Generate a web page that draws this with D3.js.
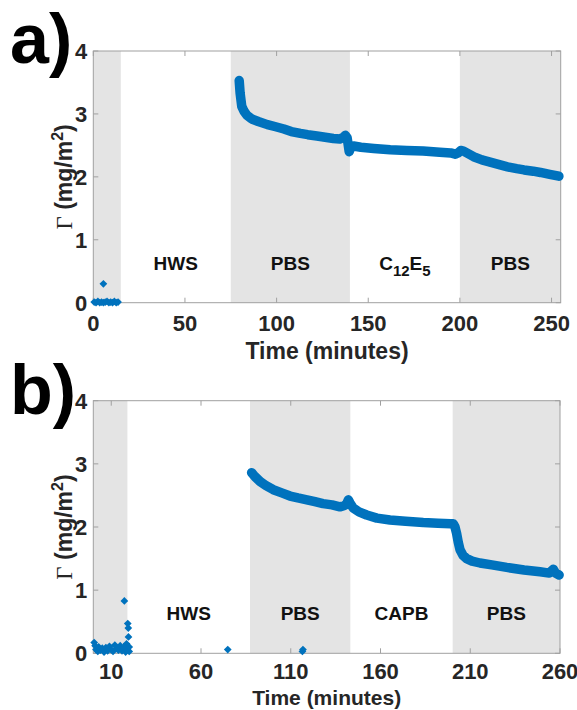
<!DOCTYPE html>
<html>
<head>
<meta charset="utf-8">
<script src="https://cdn.jsdelivr.net/npm/d3@7"></script>
<style>
  body { margin: 0; background: #fff; }
  svg text { font-family: "Liberation Sans", Arial, sans-serif; font-weight: bold; fill: #262626; }
</style>
</head>
<body>
<script>
// ---- panel a) ----
const topTime = [79.6, 80.1, 81, 82.3, 83.8, 86.5, 90, 95, 99, 104, 108, 113, 117, 122, 126.5, 131, 134.5,
  136.5, 137.5, 138.5, 139.6, 140.4, 142, 146, 153, 162, 171, 180, 189, 195, 197.5, 199, 200.5, 202,
  204.5, 207.5, 212, 217, 222, 226, 231, 235, 240, 244, 249, 254];
const topGamma = [3.53, 3.33, 3.12, 3.04, 2.98, 2.92, 2.88, 2.83, 2.80, 2.76, 2.72, 2.69, 2.67, 2.65, 2.63, 2.61, 2.60,
  2.63, 2.66, 2.62, 2.40, 2.47, 2.49, 2.47, 2.45, 2.43, 2.42, 2.41, 2.39, 2.38, 2.36, 2.38, 2.42, 2.41,
  2.37, 2.32, 2.27, 2.23, 2.19, 2.16, 2.13, 2.11, 2.09, 2.07, 2.04, 2.01];
const topStrayTime = [0.5, 1.5, 2.5, 3.5, 4.5, 5.5, 6.5, 7.5, 8.5, 9.5, 10.5, 11.5, 12.5, 13.5, 5.5];
const topStrayGamma = [0.01, 0.0, 0.02, 0.0, 0.01, 0.0, 0.01, 0.02, 0.0, 0.01, 0.0, 0.02, 0.0, 0.01, 0.3];
const topBands = [[0, 15, "", true], [15, 75, "HWS", false], [75, 140, "PBS", true],
  [140, 200, "C12E5", false], [200, 255, "PBS", true]];
const topXTicks = [0, 50, 100, 150, 200, 250];

// ---- panel b) ----
const botTime = [88.2, 90, 92.9, 96, 100.3, 105, 109.6, 114, 119, 123.5, 128, 133, 137.4, 140, 141.2, 142.1,
  143, 144.8, 148, 152.3, 158, 165.3, 174, 183.8, 192, 199, 200.6, 201.5, 202.4, 203.3, 204.3, 206, 208,
  211, 215.4, 222, 230.3, 240, 248.9, 254, 256.3, 257.5, 259.5];
const botGamma = [2.86, 2.80, 2.72, 2.66, 2.59, 2.54, 2.49, 2.46, 2.43, 2.40, 2.37, 2.35, 2.32, 2.34, 2.37, 2.43,
  2.38, 2.30, 2.24, 2.19, 2.14, 2.11, 2.09, 2.07, 2.06, 2.05, 2.05, 2.00, 1.90, 1.76, 1.64, 1.55, 1.50,
  1.46, 1.43, 1.40, 1.36, 1.32, 1.29, 1.27, 1.33, 1.27, 1.24];
const botStrayTime = [0.5, 1, 1.5, 2.5, 3, 4, 5, 6, 7, 8, 9, 10, 11, 12, 13, 14, 15, 16, 17, 17.3, 18, 18.5,
  19, 19.2, 19.5, 19.6, 20, 20, 74.9, 116.5, 116.8];
const botStrayGamma = [0.17, 0.12, 0.06, 0.03, 0.1, 0.05, 0.08, 0.02, 0.09, 0.04, 0.11, 0.06, 0.03, 0.13, 0.08,
  0.05, 0.12, 0.04, 0.1, 0.83, 0.02, 0.15, 0.07, 0.47, 0.4, 0.26, 0.03, 0.1, 0.06, 0.03, 0.06];
const botBands = [[0, 19, "", true], [19, 87.3, "HWS", false], [87.3, 143.2, "PBS", true],
  [143.2, 200.2, "CAPB", false], [200.2, 260, "PBS", true]];
const botXTicks = [10, 60, 110, 160, 210, 260];

const yTicks = [0, 1, 2, 3, 4];

const W = 577, H = 710;
const blue = "#0072bd";
const svg = d3.select("body").append("svg").attr("width", W).attr("height", H);

function drawPanel(o) {
  const x = d3.scaleLinear().domain(o.xDomain).range([o.left, o.right]);
  const y = d3.scaleLinear().domain([0, 4]).range([o.bottom, o.top]);
  const g = svg.append("g");

  // shaded solution bands
  g.selectAll("rect.band").data(o.bands.filter(d => d[3])).join("rect")
    .attr("x", d => x(d[0])).attr("width", d => x(d[1]) - x(d[0]))
    .attr("y", o.top).attr("height", o.bottom - o.top)
    .attr("fill", "#e4e4e4");

  // band labels
  o.bands.filter(d => d[2]).forEach(d => {
    const t = g.append("text").attr("x", x((d[0] + d[1]) / 2)).attr("y", y(0.52))
      .attr("text-anchor", "middle").attr("font-size", 19).style("fill", "#111");
    if (d[2] === "C12E5") {
      t.append("tspan").text("C");
      t.append("tspan").attr("dy", 6).attr("font-size", 15).text("12");
      t.append("tspan").attr("dy", -6).text("E");
      t.append("tspan").attr("dy", 6).attr("font-size", 15).text("5");
    } else t.text(d[2]);
  });

  // ticks (inward, mirrored on all sides)
  const tl = 5, axisCol = "#a0a0a0";
  o.xTicks.forEach(v => {
    g.append("line").attr("x1", x(v)).attr("x2", x(v)).attr("y1", o.bottom).attr("y2", o.bottom - tl).attr("stroke", axisCol);
    g.append("line").attr("x1", x(v)).attr("x2", x(v)).attr("y1", o.top).attr("y2", o.top + tl).attr("stroke", axisCol);
    g.append("text").attr("x", x(v)).attr("y", o.bottom + o.tickGap).attr("text-anchor", "middle")
      .attr("font-size", 22).text(v);
  });
  yTicks.forEach(v => {
    g.append("line").attr("x1", o.left).attr("x2", o.left + tl).attr("y1", y(v)).attr("y2", y(v)).attr("stroke", axisCol);
    g.append("line").attr("x1", o.right).attr("x2", o.right - tl).attr("y1", y(v)).attr("y2", y(v)).attr("stroke", axisCol);
    g.append("text").attr("x", o.left - 6).attr("y", y(v) + 8).attr("text-anchor", "end")
      .attr("font-size", 22).text(v);
  });

  // box
  g.append("rect").attr("x", o.left).attr("y", o.top)
    .attr("width", o.right - o.left).attr("height", o.bottom - o.top)
    .attr("fill", "none").attr("stroke", axisCol).attr("stroke-width", 1);

  // main trace: thick line through the read points
  const pts = o.time.map((t, i) => [t, o.gamma[i]]);
  g.append("path").datum(pts)
    .attr("d", d3.line().x(d => x(d[0])).y(d => y(d[1])).curve(d3.curveLinear))
    .attr("fill", "none").attr("stroke", blue).attr("stroke-width", 9.5)
    .attr("stroke-linejoin", "round").attr("stroke-linecap", "round");

  // stray diamond markers
  const diamond = d3.symbol(d3.symbolSquare, 30);
  const stray = o.strayTime.map((t, i) => [t, o.strayGamma[i]]);
  g.selectAll("path.pt").data(stray).join("path")
    .attr("d", diamond)
    .attr("transform", d => `translate(${x(d[0])},${y(d[1])}) rotate(45)`)
    .attr("fill", blue);

  // axis titles
  g.append("text").attr("x", (o.left + o.right) / 2).attr("y", o.bottom + o.titleGap)
    .attr("text-anchor", "middle").attr("font-size", o.titleSize).text("Time (minutes)");
  const yl = g.append("text").attr("transform", `translate(72,${(o.top + o.bottom) / 2}) rotate(-90)`)
    .attr("text-anchor", "middle").attr("font-size", 23);
  yl.append("tspan").style("font-family", "'Liberation Serif', serif").style("font-weight", "normal").text("Γ");
  yl.append("tspan").text(" (mg/m");
  yl.append("tspan").attr("dy", -9).attr("font-size", 16).text("2");
  yl.append("tspan").attr("dy", 9).text(")");

  // panel letter
  svg.append("text").attr("x", 10).attr("y", o.letterY).attr("font-size", 70)
    .style("fill", "#000").text(o.letter);
}

drawPanel({ left: 93.3, right: 560.7, top: 51, bottom: 302.7, xDomain: [0, 255],
  time: topTime, gamma: topGamma, strayTime: topStrayTime, strayGamma: topStrayGamma,
  bands: topBands, xTicks: topXTicks, letter: "a)", letterY: 63,
  tickGap: 28, titleGap: 56, titleSize: 23 });
drawPanel({ left: 93.3, right: 560, top: 400.7, bottom: 653.3, xDomain: [0, 260],
  time: botTime, gamma: botGamma, strayTime: botStrayTime, strayGamma: botStrayGamma,
  bands: botBands, xTicks: botXTicks, letter: "b)", letterY: 414,
  tickGap: 26, titleGap: 52, titleSize: 21 });
</script>
</body>
</html>
